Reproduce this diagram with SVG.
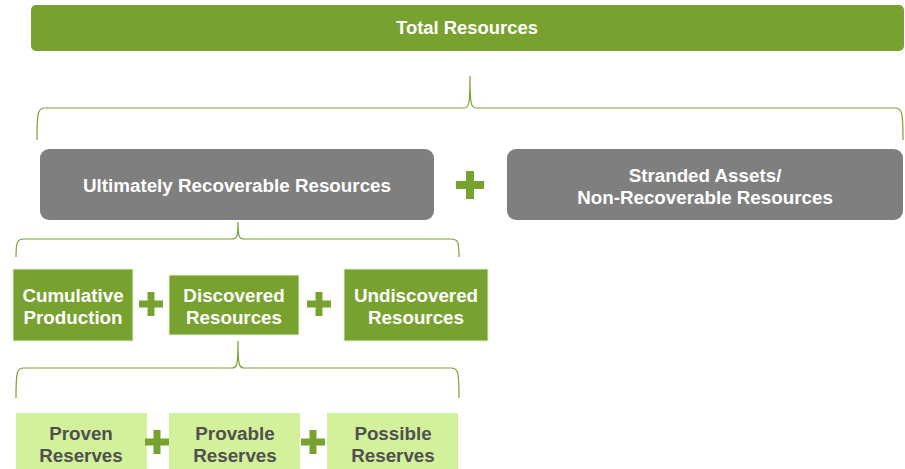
<svg xmlns="http://www.w3.org/2000/svg" width="905" height="469" viewBox="0 0 905 469">
<style>
.t{font-family:"Liberation Sans",Arial,sans-serif;font-weight:bold;text-anchor:middle;font-size:18.8px}
.w{fill:#fff}
.d{fill:#505050}
.g{fill:#78A22F}
.gray{fill:#7F7F7F}
.lg{fill:#D3F09A}
.br{fill:none;stroke:#78A22F;stroke-width:1.2}
</style>
<defs>
<path id="plusL" d="M-4,-14h8v10h10v8h-10v10h-8v-10h-10v-8h10z" fill="#78A22F"/>
<path id="plusS" d="M-3.5,-12h7v8.5h8.5v7h-8.5v8.5h-7v-8.5h-8.5v-7h8.5z" fill="#78A22F"/>
</defs>
<g id="connectors">
<path class="br" d="M37,140 C37,112 38,108 45,108 L464,108 C469,108 470,104 470,76 C470,104 471,108 476,108 L895,108 C902,108 903,112 903,140"/>
<path class="br" d="M16,257 C16,242 17,239 24,239 L232,239 C237,239 238,236 238,222 C238,236 239,239 244,239 L451,239 C458,239 459,242 459,257"/>
<path class="br" d="M16,398 C16,371 17,368 24,368 L232,368 C237,368 238,365 238,341 C238,365 239,368 244,368 L451,368 C458,368 459,371 459,398"/>
</g>
<g id="total">
<rect x="31" y="5" width="873" height="46" rx="5" class="g"/>
<text x="467" y="34" class="t w" style="font-size:18px" textLength="142" lengthAdjust="spacingAndGlyphs">Total Resources</text>
</g>
<g id="urr">
<rect x="40" y="149" width="394" height="71" rx="9" class="gray"/>
<text x="237" y="191.5" class="t w">Ultimately Recoverable Resources</text>
</g>
<g id="plus1"><use href="#plusL" x="470" y="185"/></g>
<g id="stranded">
<rect x="507" y="149" width="396" height="71" rx="9" class="gray"/>
<text x="705" y="181.5" class="t w">Stranded Assets/</text>
<text x="705" y="203.5" class="t w">Non-Recoverable Resources</text>
</g>
<g id="cumulative">
<rect x="13" y="269" width="120" height="72" class="g" stroke="#E6EED8" stroke-width="1"/>
<text x="73" y="301.5" class="t w">Cumulative</text>
<text x="73" y="323.5" class="t w">Production</text>
</g>
<g id="plus2"><use href="#plusS" x="151" y="304"/></g>
<g id="discovered">
<rect x="169" y="275" width="130" height="60" class="g" stroke="#E6EED8" stroke-width="1"/>
<text x="234" y="301.5" class="t w">Discovered</text>
<text x="234" y="323.5" class="t w">Resources</text>
</g>
<g id="plus3"><use href="#plusS" x="319" y="304"/></g>
<g id="undiscovered">
<rect x="344" y="269" width="144" height="72" class="g" stroke="#E6EED8" stroke-width="1"/>
<text x="416" y="301.5" class="t w">Undiscovered</text>
<text x="416" y="323.5" class="t w">Resources</text>
</g>
<g id="proven">
<rect x="16" y="413" width="131" height="60" class="lg"/>
<text x="81" y="440" class="t d">Proven</text>
<text x="81" y="462" class="t d">Reserves</text>
</g>
<g id="plus4"><use href="#plusS" x="157" y="442"/></g>
<g id="provable">
<rect x="169" y="413" width="131" height="60" class="lg"/>
<text x="235" y="440" class="t d">Provable</text>
<text x="235" y="462" class="t d">Reserves</text>
</g>
<g id="plus5"><use href="#plusS" x="313" y="442"/></g>
<g id="possible">
<rect x="327" y="413" width="131" height="60" class="lg"/>
<text x="393" y="440" class="t d">Possible</text>
<text x="393" y="462" class="t d">Reserves</text>
</g>
</svg>
